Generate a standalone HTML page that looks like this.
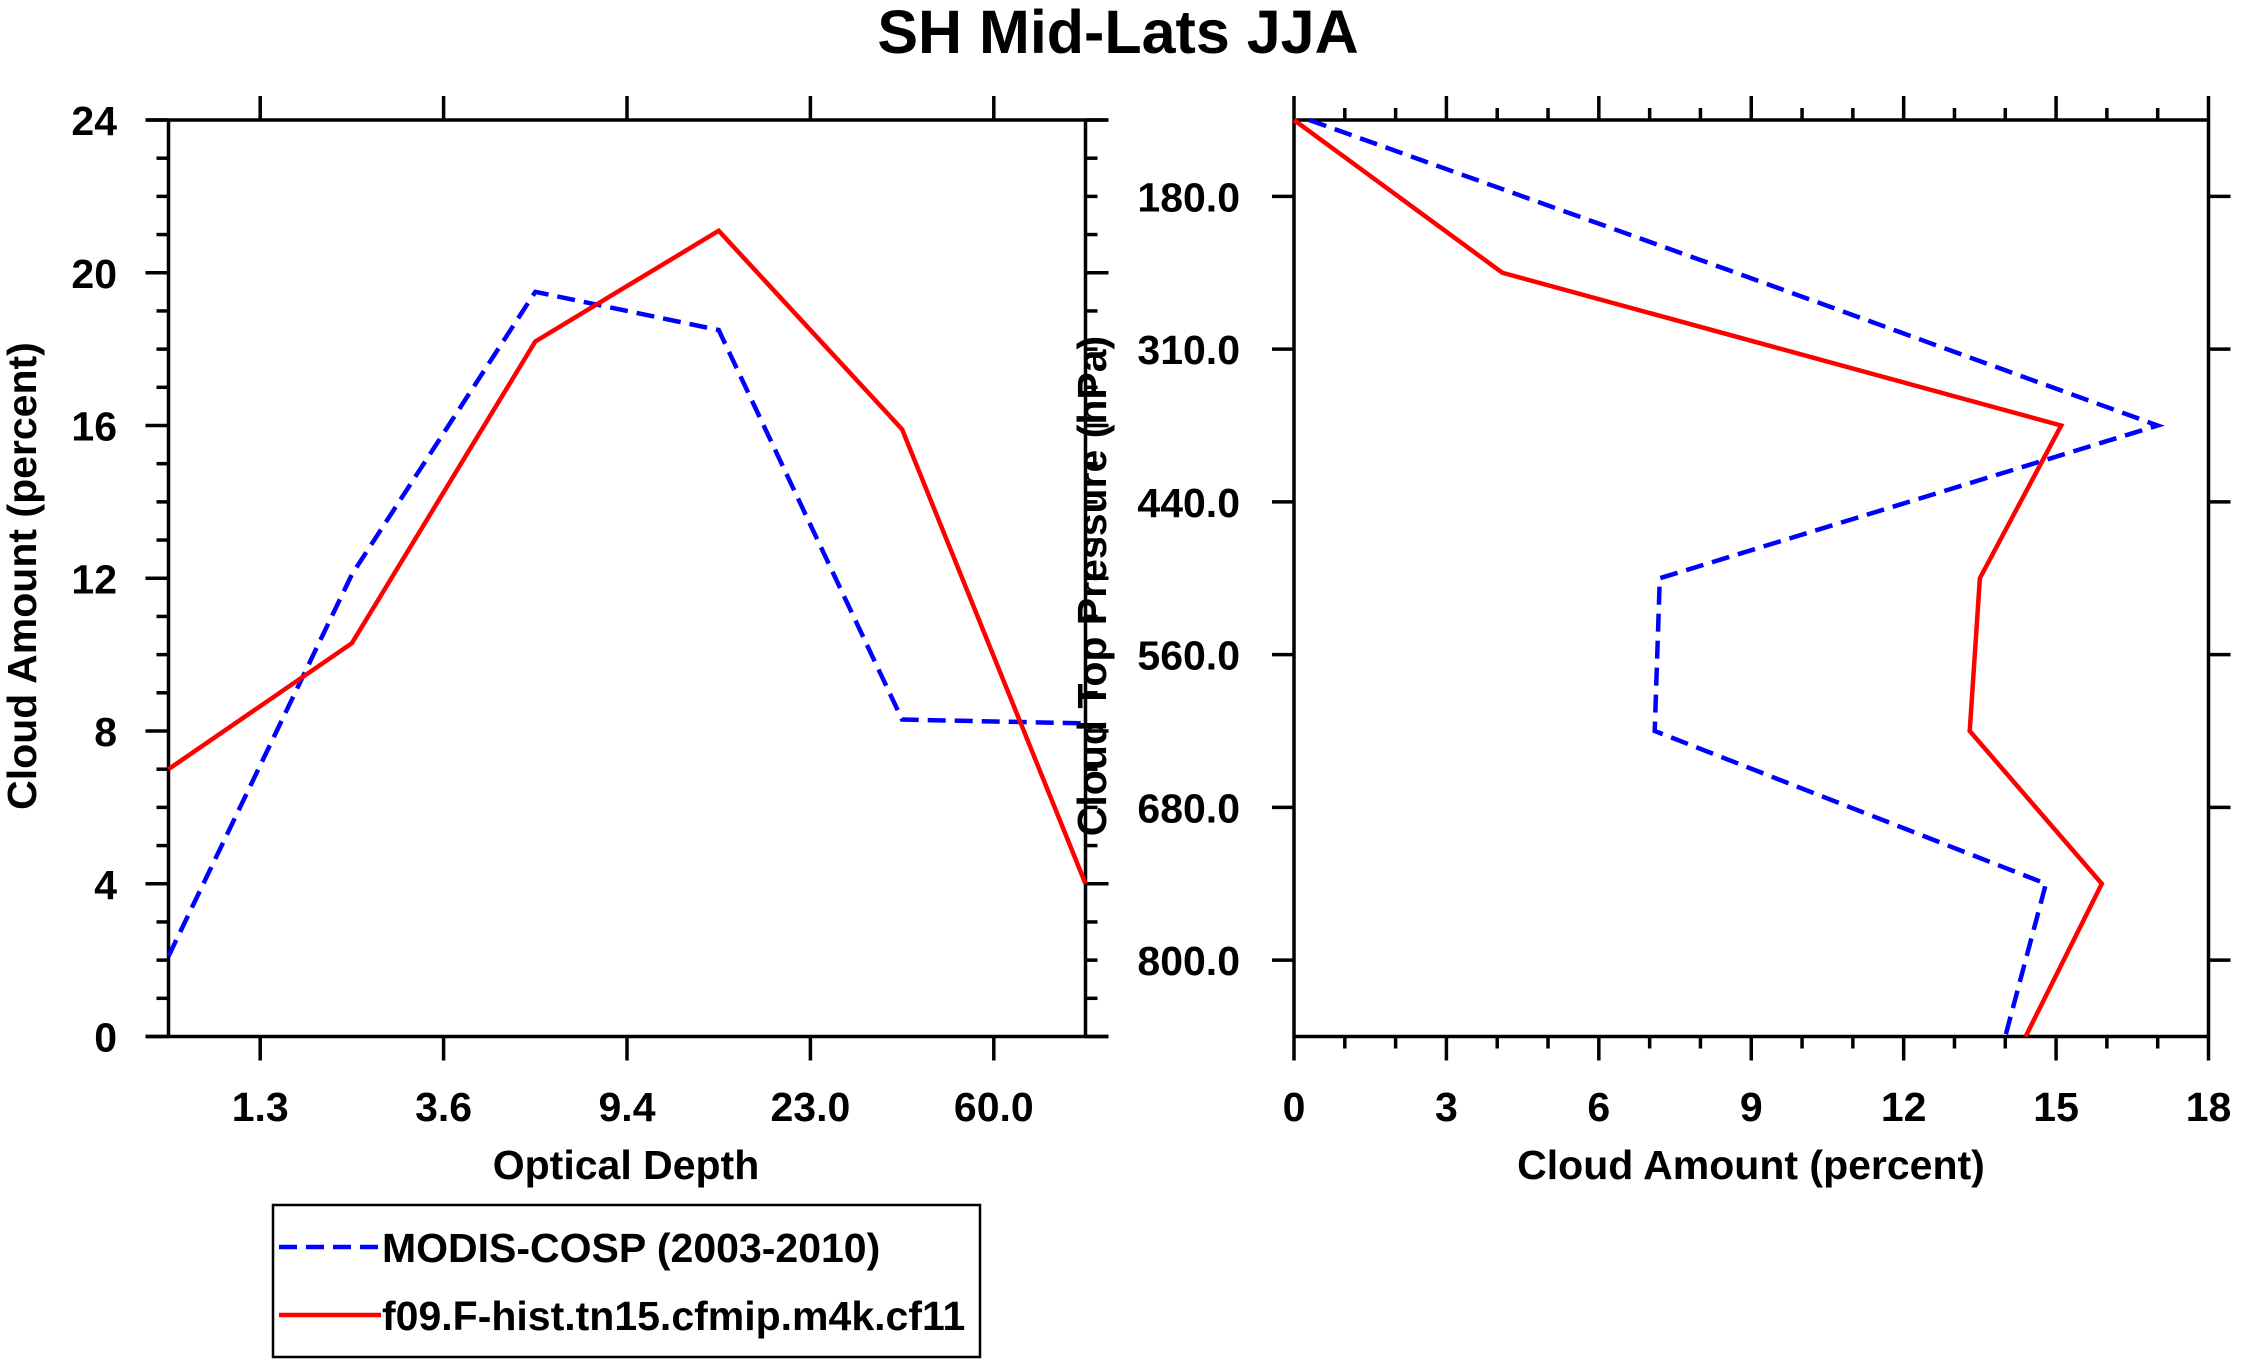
<!DOCTYPE html>
<html><head><meta charset="utf-8"><style>
body{margin:0;background:#fff;}
svg{display:block;font-family:"Liberation Sans",sans-serif;font-weight:bold;}
</style></head><body>
<svg id="chart" width="2241" height="1365" viewBox="0 0 2241 1365" xmlns="http://www.w3.org/2000/svg">
<text x="1118" y="53" font-size="61" text-anchor="middle">SH Mid-Lats JJA</text>
<g id="left"></g>
<g id="right"></g>
<g>
<rect x="273" y="1205" width="707" height="152" fill="none" stroke="#000" stroke-width="2.5"/>
<line x1="279" y1="1247" x2="381" y2="1247" stroke="#00f" stroke-width="4.5" stroke-dasharray="18 9"/>
<text x="382" y="1262" font-size="41">MODIS-COSP (2003-2010)</text>
<line x1="279" y1="1315" x2="381" y2="1315" stroke="#f00" stroke-width="4.5"/>
<text x="382" y="1330" font-size="41">f09.F-hist.tn15.cfmip.m4k.cf11</text>
</g>
</svg>
<script>
const tauLabels=["1.3","3.6","9.4","23.0","60.0"];
const leftYTicks=[0,4,8,12,16,20,24];
const modisTau=[2.1,12.1,19.5,18.5,8.3,8.2];
const modelTau=[7.0,10.3,18.2,21.1,15.9,4.0];
const presLabels=["180.0","310.0","440.0","560.0","680.0","800.0"];
const rightXTicks=[0,3,6,9,12,15,18];
const modisPres=[0.3,8.7,17.0,7.2,7.1,14.8,14.0];
const modelPres=[0.0,4.1,15.1,13.5,13.3,15.9,14.4];

const NS="http://www.w3.org/2000/svg";
function mk(parent,tag,attrs){const e=document.createElementNS(NS,tag);for(const k in attrs)e.setAttribute(k,attrs[k]);parent.appendChild(e);return e;}
function line(p,x1,y1,x2,y2,name,w){const l=mk(p,'line',{x1,y1,x2,y2,stroke:'#000','stroke-width':w||3.5});

return l;}
function txt(p,x,y,s,anchor,name,size){const t=mk(p,'text',{x,y,'font-size':size||41,'text-anchor':anchor});t.textContent=s;

return t;}

// LEFT
const L=document.getElementById('left');
const lx0=168.5,lx1=1085.5,ty=120,by=1036.5;
const lxs=i=>lx0+i*(lx1-lx0)/5;
const lys=v=>by-v*(by-ty)/24;
line(L,lx0,ty,lx0,by,'left-y-axis');line(L,lx1,ty,lx1,by,'left-right-axis');
line(L,lx0-23,ty,lx1+23,ty,'left-top-axis');line(L,lx0-23,by,lx1+23,by,'left-x-axis');
for(let v=0;v<=24;v++){const y=lys(v);const maj=v%4===0;
 line(L,lx0-(maj?23:12),y,lx0,y,'left-y-tick');line(L,lx1,y,lx1+(maj?23:12),y,'right-y-tick');}
leftYTicks.forEach(v=>txt(L,117,lys(v)+15,String(v),'end','left-y-tick-label'));
tauLabels.forEach((s,i)=>{const x=lxs(i+0.5);line(L,x,by,x,by+24,'left-x-tick');line(L,x,ty-24,x,ty,'left-top-tick');
 txt(L,x,1121,s,'middle','left-x-tick-label');});
txt(L,626,1179,'Optical Depth','middle','left-x-axis-title');
const yt=txt(L,0,0,'Cloud Amount (percent)','middle','left-y-axis-title');yt.setAttribute('transform','translate(36,576) rotate(-90)');
function poly(p,xs,ys,vals,color,dash,name){const pts=vals.map((v,i)=>xs(i,v)+','+ys(i,v)).join(' ');
 const pl=mk(p,'polyline',{points:pts,fill:'none',stroke:color,'stroke-width':4.5,'stroke-linejoin':'miter'});if(dash)pl.setAttribute('stroke-dasharray',dash);
 
 }
poly(L,(i)=>lxs(i),(i,v)=>lys(v),modisTau,'#00f','18 9','left-modis-line');
poly(L,(i)=>lxs(i),(i,v)=>lys(v),modelTau,'#f00',null,'left-model-line');

// RIGHT
const R=document.getElementById('right');
const rx0=1294,rx1=2208.5;
const rxs=v=>rx0+v*(rx1-rx0)/18;
const rys=i=>ty+i*(by-ty)/6;
line(R,rx0,ty,rx0,by,'right-y-axis');line(R,rx1,ty,rx1,by,'right-right-axis');
line(R,rx0,ty,rx1,ty,'right-top-axis');line(R,rx0,by,rx1,by,'right-x-axis');
for(let v=0;v<=18;v++){const x=rxs(v);const maj=v%3===0;
 line(R,x,by,x,by+(maj?24:12),'right-x-tick');line(R,x,ty-(maj?24:12),x,ty,'right-top-tick');}
rightXTicks.forEach(v=>txt(R,rxs(v),1121,String(v),'middle','right-x-tick-label'));
presLabels.forEach((s,i)=>{const y=rys(i+0.5);line(R,rx0-22,y,rx0,y,'right-y-tick');line(R,rx1,y,rx1+22,y,'right-y-tick-right');
 txt(R,1240,y+15,s,'end','right-y-tick-label');});
txt(R,1751,1179,'Cloud Amount (percent)','middle','right-x-axis-title');
const yt2=txt(R,0,0,'Cloud Top Pressure (hPa)','middle','right-y-axis-title');yt2.setAttribute('transform','translate(1106,586) rotate(-90)');
poly(R,(i,v)=>rxs(v),(i)=>rys(i),modisPres,'#00f','18 9','right-modis-line');
poly(R,(i,v)=>rxs(v),(i)=>rys(i),modelPres,'#f00',null,'right-model-line');
</script>
</body></html>
